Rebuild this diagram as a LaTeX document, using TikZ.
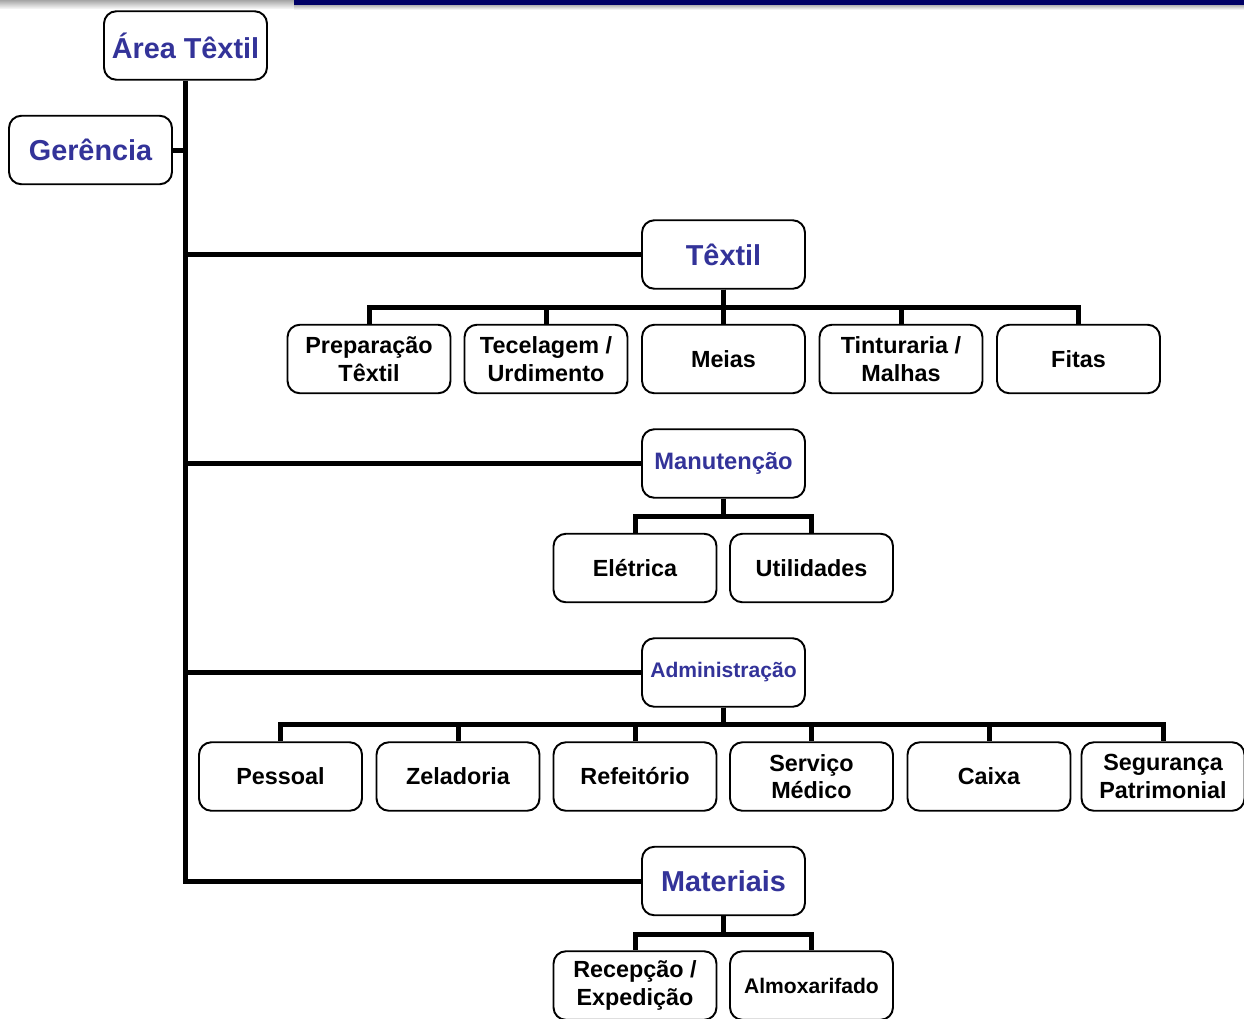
\documentclass[tikz,border=0pt]{standalone}
\usepackage{fontspec}
\setmainfont{Liberation Sans}
\definecolor{titleblue}{HTML}{333399}
\definecolor{barnavy}{HTML}{000066}

\begin{document}
\begin{tikzpicture}[x=0.02cm, y=-0.02cm, line width=2.85pt,
  unit/.style={draw, line width=1.1pt, rounded corners=7pt, fill=white,
    minimum width=3.26cm, minimum height=1.37cm, inner sep=0pt, align=center,
    font=\bfseries\fontsize{13.3}{15.6}\selectfont},
  head/.style={unit, text=titleblue, font=\bfseries\fontsize{16.4}{19}\selectfont}]
  \useasboundingbox (0,0) rectangle (1244,1018);
  % slide frame at the top
  \shade[top color=gray!70, bottom color=gray!10] (0,0) rectangle (294,8);
  \shade[top color=gray!60, bottom color=gray!10] (294,5) rectangle (1244,9);
  \fill[barnavy] (294,0) rectangle (1244,5);

  \node[head] (area) at (185.5,45.5) {Área Têxtil};
  \node[head] (gerencia) at (90.5,150) {Gerência};
  \node[head] (textil) at (723.5,254.5) {Têxtil};
  \node[head, font=\bfseries\fontsize{13.5}{16}\selectfont] (manut) at (723.5,463.5) {Manutenção};
  \node[head, font=\bfseries\fontsize{12}{14}\selectfont] (admin) at (723.5,672.5) {Administração};
  \node[head] (materiais) at (723.5,881) {Materiais};

  \node[unit] (prep) at (369,359) {Preparação\\Têxtil};
  \node[unit] (tecel) at (546,359) {Tecelagem /\\Urdimento};
  \node[unit] (meias) at (723.5,359) {Meias};
  \node[unit] (tint) at (901,359) {Tinturaria /\\Malhas};
  \node[unit] (fitas) at (1078.5,359) {Fitas};

  \node[unit] (eletrica) at (635,568) {Elétrica};
  \node[unit] (util) at (811.5,568) {Utilidades};

  \node[unit] (pessoal) at (280.5,776.5) {Pessoal};
  \node[unit] (zelad) at (458,776.5) {Zeladoria};
  \node[unit] (refeit) at (635,776.5) {Refeitório};
  \node[unit] (medico) at (811.5,776.5) {Serviço\\Médico};
  \node[unit] (caixa) at (989,776.5) {Caixa};
  \node[unit] (segur) at (1163,776.5) {Segurança\\Patrimonial};

  \node[unit] (recep) at (635,985.5) {Recepção /\\Expedição};
  \node[unit, font=\bfseries\fontsize{12}{14}\selectfont] (almox) at (811.5,985.5) {Almoxarifado};

  % trunk
  \coordinate (base) at (materiais.west -| area.south);
  \draw (area.south) -- (base) -- (materiais.west);
  \draw (gerencia.east) -- (gerencia.east -| area.south);
  \draw (textil.west) -- (textil.west -| area.south);
  \draw (manut.west) -- (manut.west -| area.south);
  \draw (admin.west) -- (admin.west -| area.south);

  % branches
  \foreach \c in {prep,tecel,meias,tint,fitas}
    \draw (textil.south) -- +(0,18) -| (\c.north);
  \foreach \c in {eletrica,util}
    \draw (manut.south) -- +(0,18) -| (\c.north);
  \foreach \c in {pessoal,zelad,refeit,medico,caixa,segur}
    \draw (admin.south) -- +(0,17) -| (\c.north);
  \foreach \c in {recep,almox}
    \draw (materiais.south) -- +(0,18) -| (\c.north);
\end{tikzpicture}
\end{document}
